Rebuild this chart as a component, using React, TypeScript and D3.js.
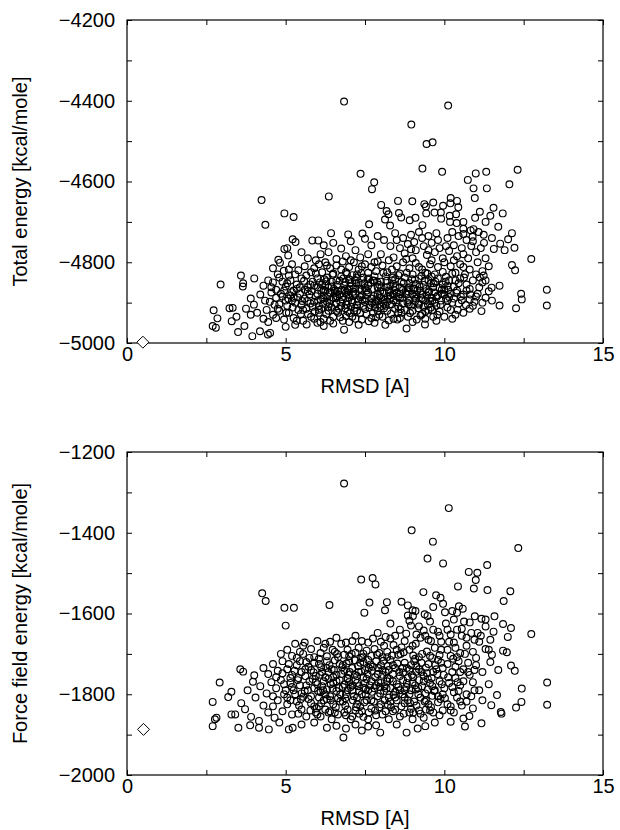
import React, { useEffect, useRef } from "react";
import * as d3 from "d3";

// RMSD [A] vs energy, one row per decoy
const totalEnergy: [number, number][] = [
  [6.84,-4402],[10.12,-4412],[8.96,-4459],[9.44,-4507],[9.63,-4503],[7.36,-4581],[7.79,-4602],[7.72,-4619],
  [9.31,-4568],[9.93,-4576],[10.74,-4596],[10.99,-4580],[11.32,-4576],[10.92,-4617],[11.34,-4617],[12.05,-4607],
  [12.31,-4571],[4.24,-4646],[6.36,-4637],[10.2,-4641],[10.96,-4641],[8.54,-4648],[8.99,-4649],
  [4.96,-4679],[5.25,-4688],[4.36,-4707],[8.01,-4658],[9.37,-4656],[9.65,-4652],[9.96,-4660],[10.19,-4654],
  [10.4,-4648],[10.44,-4664],[11.12,-4675],[11.45,-4685],[11.55,-4665],[11.84,-4679],[7.63,-4706],[8.18,-4673],
  [8.24,-4681],[8.13,-4694],[8.29,-4709],[10.37,-4681],[9.89,-4677],[10.18,-4700],[10.39,-4703],[10.6,-4717],
  [10.92,-4718],[10.97,-4690],[9.42,-4662],[8.57,-4678],[8.64,-4689],[8.91,-4696],[9.09,-4690],[9.31,-4708],
  [9.43,-4679],[9.69,-4677],[9.9,-4692],[10.17,-4685],[10.6,-4700],[10.83,-4721],[11.08,-4725],[11.24,-4732],
  [10.89,-4737],[11.3,-4700],[11.7,-4712],
  [5.22,-4743],[5.31,-4750],[5.84,-4746],[6.03,-4746],[5.05,-4765],[5.08,-4783],[4.77,-4794],[4.82,-4801],
  [4.96,-4767],[5.5,-4775],[5.7,-4790],
  [6.43,-4728],[6.97,-4731],[7.42,-4729],[6.2,-4758],[6.5,-4752],[6.75,-4766],[7.05,-4748],[7.2,-4770],
  [7.5,-4742],[7.7,-4758],[6.1,-4780],[6.35,-4775],[6.9,-4785],[7.35,-4788],[7.6,-4780],[5.95,-4795],[6.6,-4792],
  [7.9,-4735],[8.1,-4745],[8.45,-4728],[8.7,-4740],[8.95,-4732],[9.2,-4725],[9.5,-4735],[9.75,-4728],
  [8.3,-4760],[8.6,-4765],[8.85,-4755],[9.1,-4770],[9.35,-4760],[9.6,-4752],[9.85,-4765],[8.0,-4780],
  [8.4,-4788],[8.75,-4778],[9.0,-4790],[9.45,-4782],[9.7,-4775],[9.95,-4790],[10.1,-4740],[10.3,-4758],[10.15,-4772],
  [10.45,-4735],[10.7,-4745],[10.55,-4765],[10.85,-4760],[11.0,-4775],[10.4,-4785],[11.25,-4752],[11.5,-4740],
  [11.76,-4754],[11.56,-4767],[12.13,-4728],[12.01,-4743],[12.21,-4764],[11.9,-4770],[11.3,-4790],[10.75,-4790],[12.74,-4792],
  [4.6,-4815],[4.94,-4821],[5.2,-4805],[5.4,-4820],[5.6,-4810],[5.8,-4825],[5.3,-4830],[4.75,-4830],
  [6.05,-4805],[6.25,-4800],[6.4,-4815],[6.6,-4808],[6.8,-4798],[7.0,-4812],[7.15,-4800],[7.3,-4818],
  [7.5,-4805],[7.7,-4812],[7.9,-4798],[6.15,-4825],[6.5,-4828],[6.9,-4825],[7.25,-4830],[7.6,-4826],[7.85,-4822],
  [8.05,-4808],[8.25,-4795],[8.5,-4810],[8.7,-4800],[8.9,-4815],[9.1,-4802],[9.3,-4818],[9.55,-4805],
  [9.8,-4812],[10.0,-4800],[8.2,-4825],[8.6,-4828],[9.0,-4830],[9.4,-4826],[9.7,-4830],[9.95,-4824],
  [10.2,-4810],[10.5,-4805],[10.8,-4818],[11.05,-4800],[10.35,-4826],[10.65,-4830],[11.2,-4822],[12.13,-4807],
  [12.23,-4820],[11.24,-4833],
  [2.95,-4855],[3.59,-4833],[3.66,-4852],[3.65,-4860],[4.01,-4840],[4.3,-4858],[4.45,-4845],
  [4.6,-4850],[4.8,-4838],[5.0,-4860],[5.15,-4845],[5.35,-4855],[5.5,-4840],[5.7,-4862],[5.85,-4848],
  [4.7,-4868],[5.25,-4870],[5.6,-4868],
  [6.0,-4840],[6.15,-4855],[6.3,-4838],[6.45,-4860],[6.6,-4845],[6.75,-4835],[6.85,-4858],[7.0,-4842],
  [7.15,-4865],[7.3,-4850],[7.45,-4838],[7.6,-4858],[7.75,-4845],[7.9,-4862],[6.2,-4868],[6.55,-4870],
  [6.95,-4869],[7.4,-4868],[7.8,-4835],[7.1,-4832],
  [8.0,-4848],[8.15,-4835],[8.3,-4858],[8.45,-4842],[8.6,-4862],[8.75,-4838],[8.9,-4852],[9.05,-4865],
  [9.2,-4840],[9.35,-4856],[9.5,-4845],[9.65,-4862],[9.8,-4840],[9.95,-4855],[8.25,-4870],[8.7,-4868],
  [9.15,-4870],[9.6,-4835],[10.0,-4868],
  [10.15,-4845],[10.3,-4860],[10.5,-4840],[10.7,-4855],[10.9,-4845],[11.1,-4862],[11.74,-4858],[11.49,-4863],
  [10.4,-4870],[13.23,-4868],[11.3,-4845],
  [3.23,-4914],[3.33,-4913],[3.9,-4890],[4.2,-4880],[4.35,-4895],[4.0,-4905],
  [4.55,-4875],[4.7,-4888],[4.85,-4878],[5.0,-4895],[5.15,-4882],[5.3,-4900],[5.45,-4878],[5.6,-4890],
  [5.75,-4880],[5.9,-4898],[4.65,-4905],[5.05,-4908],[5.5,-4906],[5.85,-4910],
  [6.0,-4878],[6.1,-4892],[6.2,-4882],[6.3,-4898],[6.4,-4875],[6.5,-4888],[6.6,-4902],[6.7,-4880],
  [6.8,-4893],[6.9,-4876],[7.0,-4888],[7.1,-4900],[7.2,-4878],[7.3,-4892],[7.4,-4882],[7.5,-4898],
  [7.6,-4875],[7.7,-4890],[7.8,-4903],[7.9,-4880],[6.05,-4908],[6.35,-4910],[6.75,-4908],[7.05,-4910],
  [7.45,-4908],[7.85,-4892],[6.25,-4872],[6.65,-4872],[7.25,-4905],[7.65,-4906],
  [8.0,-4888],[8.1,-4876],[8.2,-4898],[8.3,-4882],[8.4,-4894],[8.5,-4875],[8.6,-4890],[8.7,-4902],
  [8.8,-4880],[8.9,-4895],[9.0,-4878],[9.1,-4890],[9.2,-4905],[9.3,-4880],[9.4,-4895],[9.5,-4875],
  [9.6,-4888],[9.7,-4900],[9.8,-4882],[9.9,-4895],[8.15,-4908],[8.55,-4910],[8.95,-4908],[9.35,-4910],[9.75,-4908],
  [10.0,-4880],[10.1,-4895],[10.2,-4878],[10.3,-4890],[10.45,-4902],[10.6,-4880],[10.8,-4892],[11.0,-4885],
  [11.2,-4900],[11.74,-4907],[12.42,-4878],[12.44,-4892],[13.23,-4907],[10.9,-4908],[11.5,-4895],
  [2.73,-4919],[2.85,-4939],[3.3,-4946],[3.45,-4935],[3.75,-4915],[3.9,-4930],[4.1,-4925],[4.3,-4940],[4.4,-4918],
  [4.6,-4930],[4.8,-4920],[4.95,-4942],[5.1,-4925],[5.25,-4938],[5.4,-4918],[5.55,-4945],[5.7,-4928],[5.9,-4940],
  [6.05,-4925],[6.2,-4940],[6.35,-4920],[6.5,-4935],[6.65,-4925],[6.8,-4945],[6.95,-4922],[7.1,-4935],
  [7.25,-4920],[7.4,-4942],[7.55,-4928],[7.7,-4938],[7.9,-4920],
  [8.05,-4935],[8.2,-4920],[8.4,-4940],[8.52,-4942],[8.65,-4925],[8.85,-4935],[9.0,-4920],[9.13,-4942],
  [9.3,-4928],[9.5,-4918],[9.65,-4935],[9.85,-4922],[10.0,-4935],
  [10.2,-4918],[10.35,-4930],[11.17,-4921],[12.26,-4914],[10.6,-4925],
  [2.7,-4958],[2.8,-4962],[3.5,-4973],[3.95,-4983],[4.19,-4971],[4.44,-4979],[3.7,-4958],[4.51,-4975],
  [5.66,-4954],[5.0,-4960],[5.3,-4955],[6.2,-4958],[6.5,-4952],[6.84,-4967],[7.3,-4955],[8.14,-4955],
  [8.81,-4964],[9.39,-4954],[7.8,-4950],[6.0,-4950],
  // dense core
  [5.65,-4833],[5.95,-4828],[6.22,-4842],[6.48,-4831],[6.7,-4846],[6.93,-4829],[7.18,-4844],[7.38,-4827],
  [7.62,-4840],[7.88,-4848],[8.08,-4826],[8.35,-4845],[8.55,-4832],[8.82,-4826],[9.07,-4843],[9.28,-4834],
  [9.46,-4828],[9.72,-4848],[10.05,-4836],[10.25,-4828],[10.62,-4838],[11.0,-4830],[5.1,-4833],[4.9,-4848],
  [5.45,-4862],[5.78,-4855],[6.08,-4850],[6.35,-4863],[6.62,-4856],[6.88,-4849],[7.05,-4860],[7.22,-4852],
  [7.5,-4864],[7.68,-4851],[7.95,-4856],[8.18,-4862],[8.4,-4853],[8.65,-4849],[8.85,-4864],[9.1,-4854],
  [9.42,-4866],[9.58,-4852],[9.85,-4864],[10.1,-4858],[10.45,-4852],[10.8,-4866],[4.55,-4862],[5.05,-4852],[11.2,-4850],
  [4.9,-4885],[5.2,-4874],[5.38,-4887],[5.7,-4872],[5.95,-4884],[6.12,-4870],[6.32,-4884],[6.55,-4877],
  [6.78,-4868],[6.98,-4880],[7.13,-4873],[7.35,-4886],[7.55,-4870],[7.78,-4884],[7.98,-4872],[8.22,-4885],
  [8.42,-4869],[8.62,-4879],[8.85,-4872],[9.05,-4885],[9.25,-4871],[9.45,-4883],[9.68,-4875],[9.92,-4868],
  [10.15,-4886],[10.38,-4876],[10.7,-4870],[11.05,-4878],[11.4,-4872],
  [4.5,-4898],[4.8,-4904],[5.08,-4890],[5.25,-4888],[5.52,-4896],[5.78,-4902],[6.02,-4895],[6.18,-4903],
  [6.42,-4893],[6.58,-4889],[6.72,-4898],[6.92,-4905],[7.08,-4894],[7.28,-4897],[7.52,-4889],[7.72,-4901],
  [7.92,-4896],[8.08,-4903],[8.28,-4891],[8.48,-4899],[8.68,-4888],[8.88,-4904],[9.08,-4896],[9.28,-4889],
  [9.48,-4904],[9.62,-4896],[9.88,-4905],[10.05,-4890],[10.25,-4900],[10.55,-4894],[10.95,-4898],[11.3,-4888],
  [4.75,-4915],[5.02,-4925],[5.22,-4912],[5.48,-4928],[5.65,-4915],[5.92,-4922],[6.12,-4915],[6.28,-4928],
  [6.45,-4912],[6.6,-4920],[6.88,-4914],[7.02,-4926],[7.18,-4913],[7.35,-4925],[7.5,-4916],[7.82,-4912],
  [7.95,-4930],[8.1,-4914],[8.32,-4928],[8.45,-4915],[8.75,-4918],[8.92,-4926],[9.18,-4914],[9.4,-4922],
  [9.58,-4912],[9.78,-4930],[10.1,-4912],[10.42,-4918],[10.8,-4915],
  [4.45,-4948],[4.7,-4938],[5.35,-4945],[5.8,-4935],[6.1,-4948],[6.4,-4945],[6.72,-4936],[7.0,-4948],
  [7.2,-4940],[7.62,-4946],[7.85,-4936],[8.25,-4944],[8.6,-4938],[9.0,-4948],[9.4,-4940],[9.75,-4945],[10.25,-4940],
  [5.9,-4815],[6.3,-4808],[6.75,-4818],[7.05,-4795],[7.4,-4810],[7.8,-4800],[8.35,-4818],[8.8,-4792],
  [9.2,-4812],[9.6,-4795],[10.3,-4795],[10.6,-4812],[11.4,-4810],[5.1,-4818],
  [8.5,-4745],[9.05,-4750],[9.3,-4740],[9.8,-4745],[10.25,-4725],[10.6,-4730],[10.9,-4748],[10.05,-4760],
  [9.5,-4770],[8.95,-4768],[10.6,-4780],[11.15,-4765],
  [5.58,-4846],[5.82,-4872],[6.02,-4862],[6.18,-4890],[6.28,-4847],[6.38,-4902],[6.52,-4866],[6.62,-4884],
  [6.68,-4915],[6.82,-4840],[6.86,-4870],[6.96,-4897],[7.04,-4852],[7.12,-4882],[7.16,-4920],[7.24,-4838],
  [7.32,-4866],[7.42,-4895],[7.48,-4852],[7.56,-4880],[7.64,-4912],[7.72,-4866],[7.8,-4846],[7.84,-4898],
  [7.96,-4884],[8.02,-4862],[8.12,-4893],[8.18,-4846],[8.26,-4874],[8.34,-4904],[8.38,-4838],[8.46,-4862],
  [8.54,-4886],[8.62,-4916],[8.72,-4852],[8.78,-4876],[8.84,-4900],[8.98,-4842],[9.02,-4866],[9.12,-4880],
  [9.22,-4860],[9.32,-4892],[9.38,-4846],[9.52,-4872],[9.55,-4896],[9.66,-4852],[9.76,-4886],[9.92,-4878],
  [10.04,-4848],[10.12,-4868],[10.35,-4845],[10.52,-4885],[10.68,-4906],[10.82,-4880],[11.12,-4838],[5.68,-4896],
  [5.9,-4858],[6.05,-4918],[6.24,-4858],[6.45,-4848],[6.78,-4886],[7.0,-4866],[7.38,-4856],[7.58,-4842],
  [7.98,-4910],[8.38,-4880],[8.9,-4862],[9.18,-4902],[9.62,-4918],[5.35,-4866],[5.2,-4895],[4.95,-4870],
  [5.55,-4918],[6.9,-4933],[7.75,-4925],[8.55,-4925],[9.25,-4932],
];

const forceFieldEnergy: [number, number][] = [
  [6.84,-1278],[10.14,-1339],[8.97,-1394],[9.64,-1422],[12.33,-1438],[9.47,-1464],[9.96,-1476],[11.35,-1480],
  [10.77,-1497],[11.04,-1499],[10.99,-1517],[10.93,-1538],[10.43,-1533],[11.36,-1542],[12.08,-1545],[11.87,-1569],
  [7.38,-1516],[7.74,-1512],[7.83,-1528],[4.26,-1550],[4.37,-1569],[4.96,-1586],[5.26,-1586],[6.38,-1579],
  [7.64,-1573],[7.48,-1598],[8.13,-1592],[8.19,-1572],[8.65,-1571],[8.85,-1580],[9.0,-1592],[9.09,-1594],
  [8.85,-1605],[9.01,-1606],[9.38,-1602],[9.47,-1606],[9.34,-1547],[9.74,-1555],[9.88,-1561],[9.65,-1584],
  [9.96,-1576],[10.02,-1597],[10.25,-1594],[10.46,-1582],[10.58,-1588],[10.4,-1598],[10.96,-1607],[11.17,-1613],
  [11.3,-1615],[11.58,-1607],
  [5.0,-1630],[8.3,-1625],[8.6,-1640],[8.9,-1618],[9.2,-1632],[9.55,-1620],[9.8,-1645],[10.05,-1625],
  [10.3,-1615],[10.55,-1638],[10.8,-1622],[11.05,-1648],[11.3,-1632],[11.85,-1626],[12.1,-1636],[12.74,-1651],
  [7.9,-1648],[8.15,-1658],[9.4,-1655],[10.2,-1652],[10.7,-1660],[11.55,-1645],[7.2,-1655],[6.6,-1660],[12.0,-1658],
  [5.05,-1690],[5.3,-1675],[5.45,-1695],[5.6,-1672],[5.8,-1688],[6.0,-1668],[6.2,-1685],[6.4,-1670],
  [6.55,-1695],[6.75,-1675],[6.95,-1690],[7.1,-1668],[7.3,-1685],[7.45,-1700],[5.2,-1705],[5.9,-1708],
  [6.65,-1708],[7.0,-1706],[4.85,-1700],
  [7.6,-1672],[7.8,-1688],[8.0,-1670],[8.2,-1695],[8.4,-1678],[8.55,-1702],[8.75,-1668],[8.9,-1690],
  [9.1,-1675],[9.3,-1700],[9.5,-1665],[9.7,-1685],[9.9,-1670],[8.05,-1708],[8.65,-1684],[9.2,-1708],
  [9.85,-1703],[7.7,-1705],
  [10.1,-1690],[10.3,-1672],[10.5,-1698],[10.7,-1680],[10.9,-1695],[11.1,-1670],[11.3,-1688],[11.5,-1702],
  [11.85,-1692],[11.97,-1696],[10.4,-1708],[11.0,-1710],
  [3.57,-1738],[3.66,-1744],[4.01,-1753],[4.3,-1735],[4.45,-1750],
  [4.6,-1725],[4.75,-1742],[4.9,-1718],[5.05,-1738],[5.2,-1752],[5.35,-1728],[5.5,-1745],[5.65,-1720],
  [5.8,-1740],[5.95,-1755],[4.7,-1758],[5.4,-1760],
  [6.05,-1725],[6.15,-1745],[6.3,-1718],[6.45,-1738],[6.6,-1752],[6.7,-1725],[6.85,-1742],[7.0,-1718],
  [7.1,-1735],[7.25,-1755],[7.35,-1722],[7.5,-1740],[7.6,-1715],[7.75,-1732],[7.9,-1750],[6.25,-1758],
  [6.95,-1760],[7.45,-1758],[7.85,-1718],
  [8.0,-1728],[8.15,-1745],[8.3,-1715],[8.45,-1735],[8.6,-1755],[8.75,-1722],[8.9,-1740],[9.05,-1718],
  [9.2,-1738],[9.35,-1755],[9.5,-1725],[9.65,-1745],[9.8,-1715],[9.95,-1735],[8.2,-1760],[8.85,-1760],[9.6,-1760],
  [10.1,-1725],[10.25,-1745],[10.45,-1718],[10.6,-1738],[10.8,-1752],[11.0,-1728],[11.2,-1745],[11.45,-1720],
  [11.7,-1740],[12.1,-1729],[12.22,-1742],[10.35,-1760],
  [2.92,-1771],[3.29,-1794],[3.19,-1807],[3.97,-1769],[3.8,-1790],[4.2,-1780],[4.4,-1798],[4.05,-1808],
  [4.55,-1770],[4.7,-1785],[4.85,-1765],[5.0,-1790],[5.15,-1772],[5.3,-1800],[5.45,-1778],[5.6,-1792],
  [5.75,-1768],[5.9,-1785],[4.6,-1805],[5.05,-1808],[5.55,-1806],
  [6.0,-1775],[6.1,-1795],[6.2,-1768],[6.3,-1788],[6.4,-1805],[6.5,-1772],[6.6,-1792],[6.7,-1765],
  [6.8,-1782],[6.9,-1800],[7.0,-1770],[7.1,-1790],[7.2,-1765],[7.3,-1780],[7.4,-1800],[7.5,-1772],
  [7.6,-1790],[7.7,-1768],[7.8,-1785],[7.9,-1805],[6.05,-1808],[6.65,-1810],[7.25,-1808],[7.85,-1778],
  [6.35,-1762],[6.95,-1762],[7.55,-1762],
  [8.0,-1772],[8.1,-1792],[8.2,-1768],[8.3,-1785],[8.4,-1802],[8.5,-1775],[8.6,-1790],[8.7,-1765],
  [8.8,-1782],[8.9,-1800],[9.0,-1770],[9.1,-1788],[9.2,-1765],[9.3,-1780],[9.4,-1798],[9.55,-1772],
  [9.7,-1790],[9.85,-1768],[10.0,-1785],[8.25,-1808],[8.75,-1808],[9.25,-1808],[9.8,-1805],
  [10.15,-1772],[10.3,-1795],[10.5,-1778],[10.7,-1800],[10.9,-1770],[11.1,-1790],[11.66,-1802],[12.44,-1786],
  [13.24,-1771],[11.4,-1775],[10.4,-1808],
  [2.7,-1819],[2.82,-1858],[2.77,-1862],[3.41,-1850],[3.29,-1850],[3.72,-1837],[3.91,-1856],[4.16,-1866],
  [4.3,-1828],[4.45,-1845],[3.6,-1822],
  [4.6,-1830],[4.75,-1815],[4.9,-1842],[5.05,-1825],[5.2,-1850],[5.35,-1818],[5.5,-1838],[5.65,-1855],
  [5.8,-1822],[5.95,-1845],[4.65,-1858],
  [6.05,-1830],[6.2,-1815],[6.35,-1845],[6.5,-1825],[6.65,-1850],[6.8,-1818],[6.95,-1838],[7.1,-1855],
  [7.25,-1825],[7.4,-1842],[7.55,-1815],[7.7,-1835],[7.85,-1852],[6.45,-1862],[7.05,-1862],[7.6,-1862],[6.1,-1855],
  [8.0,-1825],[8.15,-1842],[8.3,-1818],[8.45,-1838],[8.6,-1855],[8.75,-1822],[8.9,-1845],[9.05,-1818],
  [9.2,-1840],[9.35,-1858],[9.5,-1825],[9.65,-1845],[9.8,-1820],[9.95,-1840],[8.25,-1862],[9.0,-1862],
  [10.1,-1825],[10.3,-1845],[10.5,-1818],[10.79,-1854],[11.48,-1827],[11.78,-1844],[11.8,-1848],[12.43,-1819],
  [12.26,-1833],[13.24,-1826],[10.9,-1835],[11.2,-1815],[10.6,-1860],
  [2.7,-1879],[3.51,-1883],[3.88,-1877],[4.16,-1883],[4.47,-1887],[5.1,-1887],[5.22,-1883],[4.8,-1870],
  [5.5,-1875],[6.3,-1883],[5.9,-1870],[6.82,-1907],[6.6,-1878],[7.2,-1875],[7.6,-1880],[7.85,-1877],
  [7.98,-1895],[8.5,-1875],[8.81,-1895],[9.16,-1885],[9.4,-1879],[9.7,-1870],[10.65,-1880],[11.17,-1872],
  [10.2,-1868],[6.9,-1885],[7.4,-1890],
  // dense core
  [5.55,-1700],[5.75,-1710],[6.1,-1698],[6.3,-1706],[6.48,-1690],[6.85,-1702],[7.2,-1697],[7.38,-1710],
  [7.55,-1692],[7.95,-1698],[8.35,-1704],[8.72,-1696],[9.02,-1704],[9.45,-1694],[9.62,-1710],[10.2,-1705],[10.65,-1700],
  [5.1,-1725],[5.45,-1718],[5.72,-1732],[5.9,-1722],[6.12,-1733],[6.38,-1728],[6.55,-1716],[6.78,-1733],
  [6.92,-1724],[7.18,-1716],[7.28,-1730],[7.45,-1720],[7.68,-1726],[7.92,-1735],[8.08,-1717],[8.22,-1730],
  [8.52,-1724],[8.68,-1735],[8.95,-1728],[9.12,-1730],[9.28,-1722],[9.42,-1734],[9.72,-1728],[9.9,-1722],
  [10.35,-1732],[10.75,-1722],
  [4.9,-1748],[5.28,-1742],[5.62,-1755],[5.88,-1746],[6.08,-1752],[6.35,-1745],[6.52,-1740],[6.75,-1750],
  [7.02,-1745],[7.18,-1752],[7.38,-1744],[7.58,-1750],[7.72,-1742],[8.05,-1752],[8.25,-1740],[8.38,-1750],
  [8.7,-1746],[8.98,-1752],[9.12,-1744],[9.45,-1748],[9.75,-1738],[9.98,-1752],[10.5,-1745],[10.95,-1740],
  [5.2,-1782],[5.38,-1765],[5.65,-1778],[5.95,-1770],[6.15,-1780],[6.42,-1775],[6.6,-1768],[6.85,-1776],
  [7.05,-1782],[7.25,-1772],[7.45,-1784],[7.65,-1778],[7.92,-1770],[8.12,-1780],[8.38,-1768],[8.55,-1782],
  [8.82,-1772],[9.08,-1778],[9.35,-1768],[9.62,-1780],[9.92,-1775],[10.25,-1782],[10.6,-1768],
  [4.95,-1800],[5.25,-1790],[5.5,-1798],[5.8,-1805],[6.02,-1792],[6.25,-1800],[6.48,-1786],[6.72,-1800],
  [6.95,-1790],[7.15,-1805],[7.32,-1792],[7.52,-1800],[7.72,-1794],[7.98,-1798],[8.18,-1786],[8.45,-1794],
  [8.68,-1800],[8.95,-1790],[9.18,-1800],[9.48,-1788],[9.62,-1804],[9.95,-1800],[10.45,-1792],[10.85,-1805],
  [5.15,-1815],[5.42,-1828],[5.72,-1812],[5.9,-1830],[6.12,-1822],[6.3,-1812],[6.58,-1832],[6.72,-1818],
  [6.88,-1828],[7.12,-1815],[7.35,-1830],[7.48,-1820],[7.78,-1818],[7.95,-1832],[8.22,-1826],[8.5,-1815],
  [8.65,-1830],[8.85,-1815],[9.12,-1828],[9.42,-1815],[9.58,-1832],[9.88,-1812],[10.2,-1830],[10.7,-1818],
  [5.4,-1848],[5.78,-1840],[6.0,-1850],[6.25,-1838],[6.55,-1845],[6.9,-1852],[7.2,-1840],[7.45,-1856],
  [7.62,-1845],[8.05,-1850],[8.38,-1842],[8.72,-1848],[8.95,-1836],[9.25,-1848],[9.55,-1840],[9.85,-1852],[10.2,-1840],
  [5.55,-1680],[6.25,-1675],[6.9,-1672],[7.4,-1668],[7.75,-1662],[8.3,-1662],[8.8,-1650],[9.25,-1660],
  [9.65,-1640],[10.1,-1640],[10.55,-1655],[10.95,-1665],[11.45,-1665],[8.5,-1690],[9.0,-1680],[10.35,-1685],
  [5.35,-1710],[5.62,-1738],[5.85,-1762],[6.05,-1712],[6.18,-1790],[6.28,-1735],[6.42,-1815],[6.5,-1758],
  [6.62,-1700],[6.68,-1785],[6.8,-1728],[6.88,-1810],[6.98,-1752],[7.08,-1700],[7.12,-1778],[7.22,-1832],
  [7.3,-1745],[7.42,-1708],[7.52,-1788],[7.62,-1735],[7.7,-1815],[7.82,-1758],[7.88,-1702],[7.96,-1782],
  [8.05,-1740],[8.12,-1815],[8.2,-1708],[8.28,-1762],[8.38,-1728],[8.45,-1808],[8.58,-1745],[8.62,-1700],
  [8.75,-1790],[8.82,-1735],[8.92,-1822],[9.02,-1758],[9.08,-1712],[9.18,-1785],[9.28,-1745],[9.38,-1818],
  [9.48,-1762],[9.55,-1705],[9.68,-1792],[9.78,-1750],[9.9,-1690],[10.02,-1810],[10.12,-1758],[10.28,-1712],
  [10.42,-1770],[10.55,-1828],[10.75,-1745],[10.95,-1790],[5.48,-1812],[5.7,-1790],[5.98,-1835],[6.4,-1842],
  [6.85,-1845],[7.32,-1848],[7.82,-1840],[8.32,-1832],[9.02,-1845],[9.42,-1838],[5.15,-1760],[4.95,-1775],
  [8.95,-1630],[9.35,-1642],[9.58,-1668],[9.85,-1655],[10.15,-1670],[10.4,-1640],[10.62,-1620],[10.85,-1648],
  [11.15,-1655],[11.4,-1690],[8.45,-1655],[8.1,-1680],[9.12,-1652],
];

// native structure (diamond)
const totalNative: [number, number] = [0.5, -4998];
const forceFieldNative: [number, number] = [0.52, -1887];

const xTicks = [0, 2.5, 5, 7.5, 10, 12.5, 15];
const xLabels = [0, 5, 10, 15];
const totalTicks = [-5000, -4900, -4800, -4700, -4600, -4500, -4400, -4300, -4200];
const totalLabels = [-5000, -4800, -4600, -4400, -4200];
const forceTicks = [-2000, -1900, -1800, -1700, -1600, -1500, -1400, -1300, -1200];
const forceLabels = [-2000, -1800, -1600, -1400, -1200];

const font = "'Liberation Sans', Arial, Helvetica, sans-serif";
const left = 127;
const right = 603;

function Panel({ points, native, yTicks, yLabels, title, top, bottom }: any) {
  const ref = useRef<SVGGElement>(null);

  useEffect(() => {
    const g = d3.select(ref.current);
    g.selectAll("*").remove();

    const x = d3.scaleLinear().domain([0, 15]).range([left, right]);
    const y = d3.scaleLinear().domain([yTicks[0], yTicks[yTicks.length - 1]]).range([bottom, top]);
    const fmt = (d: any) => (d < 0 ? "\u2212" + Math.abs(d) : String(d));

    const bottomAxis = d3.axisBottom(x).tickValues(xTicks).tickSize(-5).tickPadding(4)
      .tickFormat((d: any) => (xLabels.includes(d) ? fmt(d) : ""));
    const topAxis = d3.axisTop(x).tickValues(xTicks).tickSize(-5).tickFormat(() => "");
    const leftAxis = d3.axisLeft(y).tickValues(yTicks).tickSize(-5).tickPadding(12)
      .tickFormat((d: any) => (yLabels.includes(d) ? fmt(d) : ""));
    const rightAxis = d3.axisRight(y).tickValues(yTicks).tickSize(-5).tickFormat(() => "");

    const axes: [any, string][] = [
      [bottomAxis, `translate(0,${bottom})`],
      [topAxis, `translate(0,${top})`],
      [leftAxis, `translate(${left},0)`],
      [rightAxis, `translate(${right},0)`],
    ];
    axes.forEach(([ax, tr]) => {
      const a = g.append("g").attr("transform", tr).call(ax);
      a.select(".domain").remove();
      a.selectAll("line").attr("stroke", "#000").attr("stroke-width", 1);
      a.selectAll("text").attr("fill", "#000").style("font-family", font).style("font-size", "20px");
    });

    g.append("rect")
      .attr("x", left).attr("y", top)
      .attr("width", right - left).attr("height", bottom - top)
      .attr("fill", "none").attr("stroke", "#000").attr("stroke-width", 1.2);

    g.append("g").selectAll("circle")
      .data(points)
      .enter().append("circle")
      .attr("cx", (d: any) => x(d[0]))
      .attr("cy", (d: any) => y(d[1]))
      .attr("r", 3.4)
      .attr("fill", "none")
      .attr("stroke", "#000")
      .attr("stroke-width", 1.15);

    const s = 6;
    const nx = x(native[0]), ny = y(native[1]);
    g.append("path")
      .attr("d", `M${nx},${ny - s}L${nx + s},${ny}L${nx},${ny + s}L${nx - s},${ny}Z`)
      .attr("fill", "#fff").attr("stroke", "#000").attr("stroke-width", 1);

    g.append("text")
      .attr("x", (left + right) / 2).attr("y", bottom + 50)
      .attr("text-anchor", "middle")
      .style("font-family", font).style("font-size", "20px")
      .text("RMSD [A]");

    g.append("text")
      .attr("transform", `translate(27,${(top + bottom) / 2}) rotate(-90)`)
      .attr("text-anchor", "middle")
      .style("font-family", font).style("font-size", "20px")
      .text(title);
  }, []);

  return <g ref={ref} />;
}

export default function App() {
  return (
    <svg width={620} height={830} style={{ position: "absolute", left: 0, top: 0, background: "#fff" }}>
      <Panel points={totalEnergy} native={totalNative} yTicks={totalTicks} yLabels={totalLabels}
        title="Total energy [kcal/mole]" top={20} bottom={343} />
      <Panel points={forceFieldEnergy} native={forceFieldNative} yTicks={forceTicks} yLabels={forceLabels}
        title="Force field energy [kcal/mole]" top={452} bottom={775} />
    </svg>
  );
}
